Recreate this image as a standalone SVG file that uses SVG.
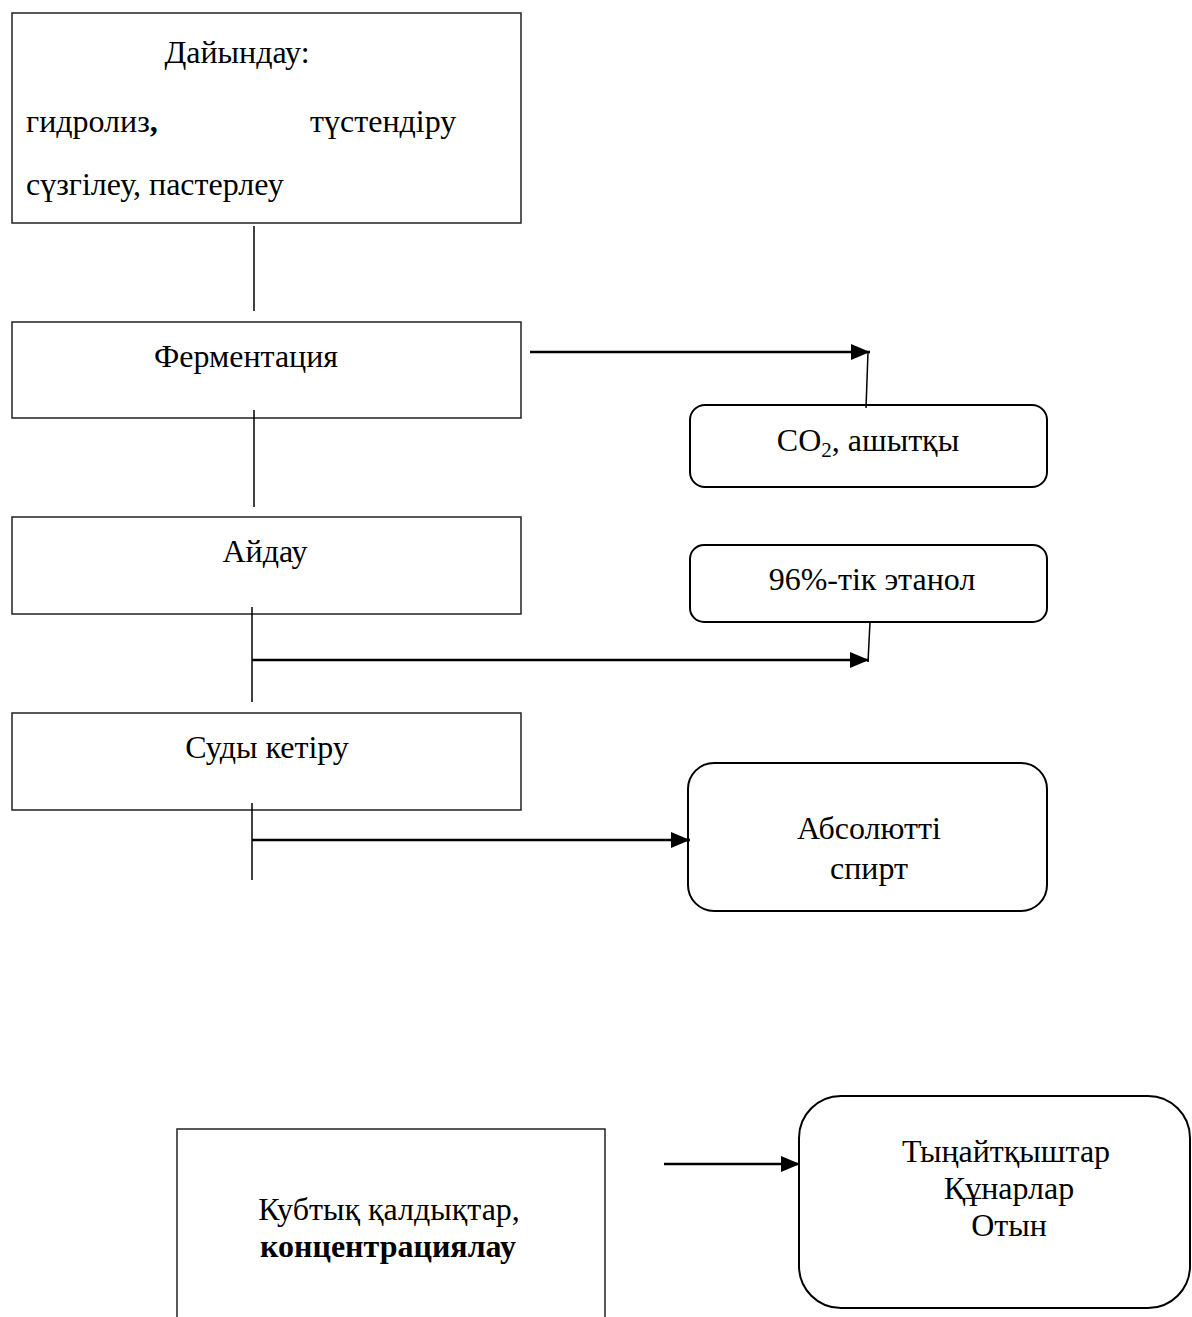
<svg xmlns="http://www.w3.org/2000/svg" width="1192" height="1317" viewBox="0 0 1192 1317">
<style>
text{font-family:"Liberation Serif","Times New Roman",serif;font-size:32px;fill:#000}
.box{fill:#fff;stroke:#222;stroke-width:1.5}
.rbox{fill:#fff;stroke:#000;stroke-width:2}
.ln{stroke:#000;stroke-width:1.5;fill:none}
.ar{stroke:#000;stroke-width:2.5;fill:none;marker-end:url(#ah)}
.c{text-anchor:middle}
</style>
<defs>
<marker id="ah" markerUnits="userSpaceOnUse" markerWidth="20" markerHeight="16" refX="19" refY="8" orient="auto">
<path d="M0,0 L19,8 L0,16 Z" fill="#000"/>
</marker>
</defs>
<rect width="1192" height="1317" fill="#fff"/>
<g id="n1">
<rect class="box" x="12" y="13" width="509" height="210"/>
<text x="237" y="63" class="c">Дайындау:</text>
<text x="26" y="132">гидролиз<tspan font-weight="bold">,</tspan></text>
<text x="310" y="132">түстендіру</text>
<text x="26" y="195">сүзгілеу, пастерлеу</text>
</g>
<g id="n2">
<rect class="box" x="12" y="322" width="509" height="96"/>
<text x="246" y="367" class="c">Ферментация</text>
</g>
<g id="n3">
<rect class="rbox" x="690" y="405" width="357" height="82" rx="15"/>
<text x="868" y="451" class="c">CO<tspan font-size="21" dy="6">2</tspan><tspan dy="-6">, ашытқы</tspan></text>
</g>
<g id="n4">
<rect class="box" x="12" y="517" width="509" height="97"/>
<text x="265" y="562" class="c">Айдау</text>
</g>
<g id="n5">
<rect class="rbox" x="690" y="545" width="357" height="77" rx="14"/>
<text x="872" y="590" class="c">96%-тік этанол</text>
</g>
<g id="n6">
<rect class="box" x="12" y="713" width="509" height="97"/>
<text x="267" y="758" class="c">Суды кетіру</text>
</g>
<g id="n7">
<rect class="rbox" x="688" y="763" width="359" height="148" rx="26"/>
<text x="869" y="839" class="c">Абсолютті</text>
<text x="869" y="879" class="c">спирт</text>
</g>
<g id="n8">
<path class="box" d="M177,1317 V1129 H605 V1317"/>
<text x="389" y="1220" class="c" font-size="33">Кубтық қалдықтар,</text>
<text x="388" y="1257" class="c" font-size="33" font-weight="bold">концентрациялау</text>
</g>
<g id="n9">
<rect class="rbox" x="799" y="1096" width="391" height="212" rx="42"/>
<text x="1006" y="1162" class="c">Тыңайтқыштар</text>
<text x="1009" y="1199" class="c">Құнарлар</text>
<text x="1009" y="1236" class="c">Отын</text>
</g>
<g id="connectors">
<line class="ln" x1="254" y1="226" x2="254" y2="311"/>
<line class="ar" x1="530" y1="352" x2="870" y2="352"/>
<line class="ln" x1="868" y1="352" x2="866" y2="408"/>
<line class="ln" x1="254" y1="410" x2="254" y2="507"/>
<line class="ln" x1="252" y1="607" x2="252" y2="702"/>
<line class="ar" x1="252" y1="660" x2="869" y2="660"/>
<line class="ln" x1="868" y1="662" x2="870" y2="622"/>
<line class="ln" x1="252" y1="803" x2="252" y2="880"/>
<line class="ar" x1="252" y1="840" x2="690" y2="840"/>
<line class="ar" x1="664" y1="1164" x2="800" y2="1164"/>
</g>
</svg>
